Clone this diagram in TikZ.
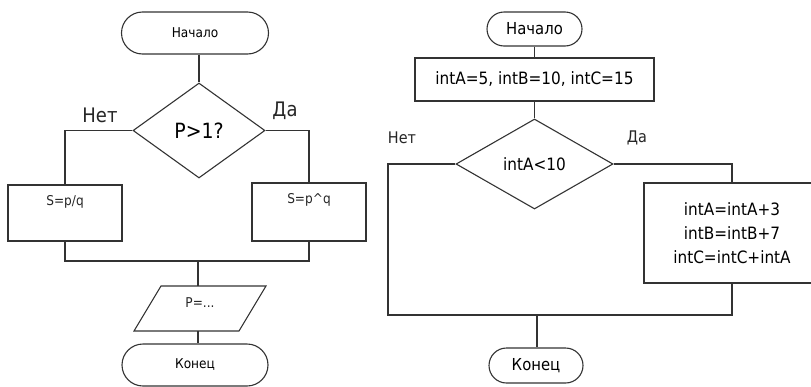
\documentclass[tikz,border=0pt]{standalone}
\usepackage{fontspec}
\setmainfont[FakeStretch=0.9]{DejaVu Sans}
\usetikzlibrary{shapes.geometric}
\begin{document}
\begin{tikzpicture}[x=1pt,y=-1pt,
  line/.style={draw=black!80,line width=1.1pt},
  term/.style={line,rectangle,rounded corners=#1,inner sep=0pt},
  proc/.style={line,rectangle,inner sep=0pt},
  cond/.style={line,diamond,inner sep=0pt},
  txt/.style={text=black!85,inner sep=0pt},
]
\useasboundingbox (0,0) rectangle (811,386);
\fill[white] (0,0) rectangle (811,386);

% ---------- left flowchart ----------
\node[term=21pt,minimum width=147pt,minimum height=42pt,font=\fontsize{13.5}{15}\selectfont] (s1) at (195,33) {Начало};
\node[cond,minimum width=132pt,minimum height=95pt,font=\fontsize{21}{24}\selectfont] (d1) at (199,130.5) {P>1?};
\node[txt,font=\fontsize{20}{22}\selectfont] (no1) at (100,115) {Нет};
\node[txt,font=\fontsize{20}{22}\selectfont] (yes1) at (285,111) {Да};
\node[proc,minimum width=114pt,minimum height=56pt] (b1) at (65,213) {};
\node[txt,font=\fontsize{13.5}{15}\selectfont] (b1t) at ([yshift=-17pt]b1.north) {S=p/q};
\node[proc,minimum width=114pt,minimum height=58pt] (b2) at (309,212) {};
\node[txt,font=\fontsize{13.5}{15}\selectfont] (b2t) at ([yshift=-17pt]b2.north) {S=p\^{}q};
\coordinate (j1) at (198,261);
\coordinate (pt) at (213.5,286);
\draw[line] (161,286) -- (266,286) -- (239,331) -- (134,331) -- cycle;
\node[txt,font=\fontsize{13.5}{15}\selectfont] (pout) at (200,303) {P=...};
\node[term=21pt,minimum width=146pt,minimum height=42pt,font=\fontsize{13.5}{15}\selectfont] (e1) at (195,365) {Конец};

\draw[line] (d1.north |- s1.south) -- (d1.north);
\draw[line] (d1.west) -| (b1.north);
\draw[line] (d1.east) -| (b2.north);
\draw[line] (b1.south) |- (j1) -| (b2.south);
\draw[line] (j1) -- (j1 |- pt);
\draw[line] (j1 |- 0,331) -- (j1 |- e1.north);

% ---------- right flowchart ----------
\node[term=17pt,minimum width=95pt,minimum height=34pt,font=\fontsize{16.5}{18}\selectfont] (s2) at (534.5,29) {Начало};
\node[proc,minimum width=239pt,minimum height=43pt,font=\fontsize{17}{19}\selectfont] (init) at (534.5,79.5) {intA=5, intB=10, intC=15};
\node[cond,minimum width=157pt,minimum height=90pt,font=\fontsize{17}{19}\selectfont] (d2) at (534.5,164) {intA<10};
\node[txt,font=\fontsize{16}{18}\selectfont] (no2) at (402,138) {Нет};
\node[txt,font=\fontsize{16}{18}\selectfont] (yes2) at (637,138) {Да};
\node[proc,minimum width=176pt,minimum height=100pt,align=center,font=\fontsize{17}{24}\selectfont] (b3) at (732,233) {intA=intA+3\\intB=intB+7\\intC=intC+intA};
\coordinate (lc) at (388,315);
\coordinate (j2) at (537,315);
\node[term=17.5pt,minimum width=94pt,minimum height=35pt,font=\fontsize{16.5}{18}\selectfont] (e2) at (536,365.5) {Конец};

\draw[line] (s2) -- (init);
\draw[line] (init) -- (d2);
\draw[line] (d2.west) -| (lc) -- (b3.south |- lc) -- (b3.south);
\draw[line] (d2.east) -| (b3.north);
\draw[line] (j2) -- (j2 |- e2.north);
\end{tikzpicture}
\end{document}
